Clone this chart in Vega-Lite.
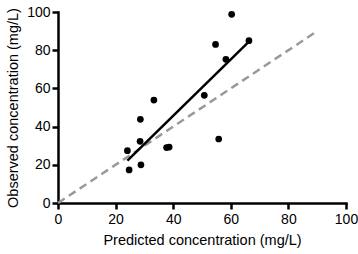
{
  "$schema": "https://vega.github.io/schema/vega-lite/v6.json",
  "autosize": "none",
  "width": 288,
  "height": 191,
  "padding": {"left": 58, "top": 12, "right": 12, "bottom": 51},
  "background": "white",
  "config": {
    "view": {"stroke": null},
    "font": "Liberation Sans",
    "axis": {
      "grid": false,
      "domainColor": "black",
      "domainWidth": 2.5,
      "domainCap": "square",
      "tickColor": "black",
      "tickWidth": 2.5,
      "tickSize": 6,
      "labelColor": "black",
      "labelFontSize": 14,
      "labelFont": "Liberation Sans",
      "titleFont": "Liberation Sans",
      "titleFontSize": 14.5,
      "titleFontWeight": "normal",
      "titleColor": "black"
    }
  },
  "datasets": {
    "pts": [
      {"pred": 60.3, "obs": 98.8},
      {"pred": 54.7, "obs": 83.0},
      {"pred": 66.3, "obs": 85.0},
      {"pred": 58.3, "obs": 75.2},
      {"pred": 50.8, "obs": 56.4},
      {"pred": 33.3, "obs": 53.9},
      {"pred": 28.6, "obs": 43.8},
      {"pred": 28.5, "obs": 32.3},
      {"pred": 24.1, "obs": 27.4},
      {"pred": 24.7, "obs": 17.3},
      {"pred": 28.8, "obs": 20.0},
      {"pred": 37.7, "obs": 29.0},
      {"pred": 38.6, "obs": 29.3},
      {"pred": 55.8, "obs": 33.5}
    ],
    "fit": [
      {"pred": 24.1, "obs": 22.2},
      {"pred": 66.3, "obs": 84.5}
    ],
    "identity": [
      {"pred": 0, "obs": 0},
      {"pred": 90, "obs": 90}
    ]
  },
  "encoding": {
    "x": {"field": "pred", "type": "quantitative", "scale": {"domain": [0, 100], "nice": false}, "axis": {"values": [0, 20, 40, 60, 80, 100], "title": "Predicted concentration (mg/L)", "titlePadding": 7, "labelPadding": 3, "labelOverlap": false, "labelFlush": false}},
    "y": {"field": "obs", "type": "quantitative", "scale": {"domain": [0, 100], "nice": false}, "axis": {"values": [0, 20, 40, 60, 80, 100], "title": "Observed concentration (mg/L)", "titlePadding": 6, "labelPadding": 2, "labelOverlap": false, "labelFlush": false}}
  },
  "layer": [
    {
      "data": {"name": "identity"},
      "mark": {"type": "line", "color": "#999999", "strokeWidth": 2.5, "strokeDash": [8, 5], "clip": false}
    },
    {
      "data": {"name": "fit"},
      "mark": {"type": "line", "color": "black", "strokeWidth": 2.5}
    },
    {
      "data": {"name": "pts"},
      "mark": {"type": "circle", "color": "black", "opacity": 1, "size": 45}
    }
  ]
}
